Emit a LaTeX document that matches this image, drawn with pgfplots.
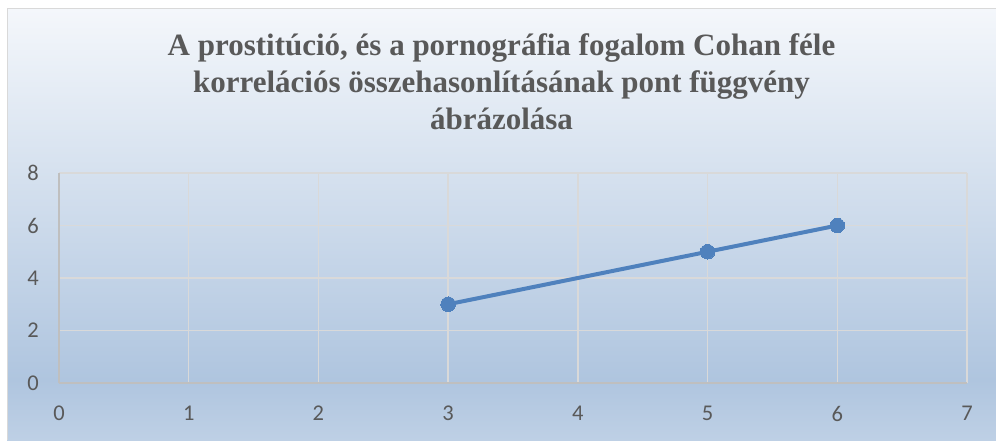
\documentclass[border=0pt]{standalone}
\usepackage{fontspec}
\setmainfont{Liberation Serif}
\newfontfamily\tickfont{Carlito}
\usepackage{pgfplots}
\pgfplotsset{compat=1.18}
\definecolor{bgtop}{HTML}{F4F7FB}
\definecolor{bgmid}{HTML}{AFC5DF}
\definecolor{bgbot}{HTML}{BED0E5}
\definecolor{gridc}{HTML}{D9D9D9}
\definecolor{axc}{HTML}{BFBFBF}
\definecolor{txt}{HTML}{595959}
\definecolor{ser}{HTML}{4F81BD}
\begin{document}
\begin{tikzpicture}[x=1pt,y=1pt]
\path[use as bounding box, fill=white] (0,0) rectangle (996,440);
\shade[top color=bgtop, bottom color=bgmid] (7,60) rectangle (996,431);
\shade[top color=bgmid, bottom color=bgbot] (7,0) rectangle (996,60.5);
\draw[gridc, line width=1pt] (7,0) -- (7,431) -- (996,431);
\node[font=\fontsize{31}{37}\selectfont\bfseries, text=txt, anchor=base, inner sep=0pt]
  at (501.5,384) {A prostitúció, és a pornográfia fogalom Cohan féle};
\node[font=\fontsize{31}{37}\selectfont\bfseries, text=txt, anchor=base, inner sep=0pt]
  at (501.5,347) {korrelációs összehasonlításának pont függvény};
\node[font=\fontsize{31}{37}\selectfont\bfseries, text=txt, anchor=base, inner sep=0pt]
  at (501.5,310) {ábrázolása};
\begin{axis}[
  at={(59pt,57pt)}, anchor=south west,
  scale only axis, width=908pt, height=210pt,
  xmin=0, xmax=7, ymin=0, ymax=8,
  xtick={0,1,...,7}, ytick={0,2,...,8},
  axis x line*=bottom, axis y line*=left,
  axis line style={draw=axc, line width=1.5pt, -},
  major tick length=0pt,
  grid=major,
  grid style={draw=gridc, line width=1.5pt},
  tick label style={font=\fontsize{22.5}{26}\selectfont\tickfont, text=txt, inner sep=0pt},
  /pgf/number format/assume math mode=true,
  xticklabel style={anchor=north, yshift=-23pt},
  yticklabel style={anchor=east, xshift=-20pt},
  clip=false,
]
\addplot[color=ser, line width=4pt, mark=*, mark size=7.3pt, mark options={fill=ser, draw=ser, line width=0pt}]
  coordinates {(3,3) (5,5) (6,6)};
\end{axis}
\end{tikzpicture}
\end{document}
